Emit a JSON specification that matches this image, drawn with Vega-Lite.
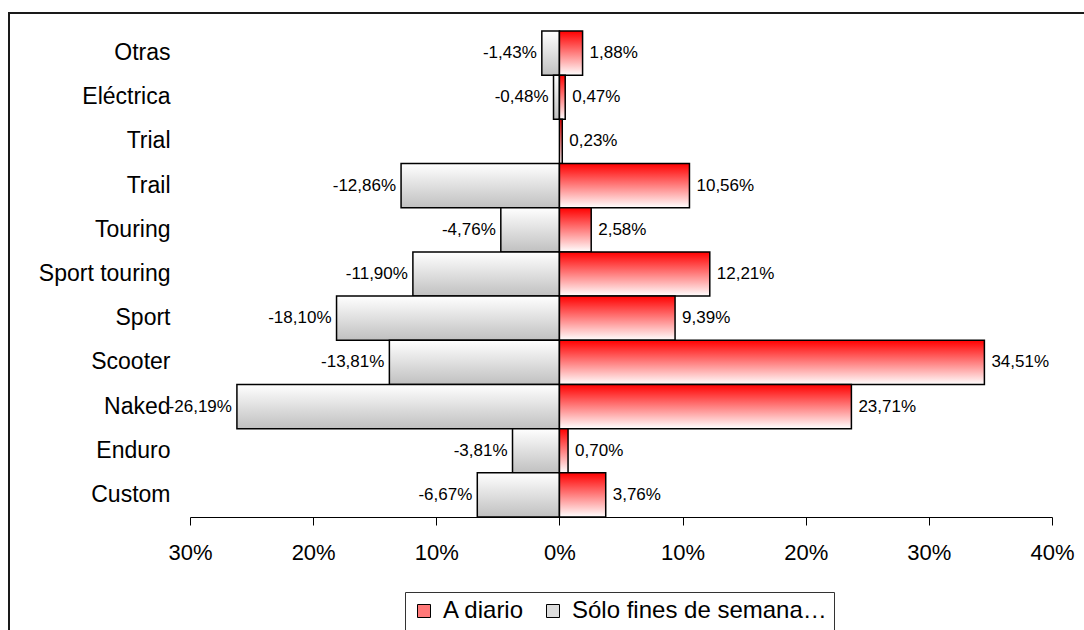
{
  "$schema": "https://vega.github.io/schema/vega-lite/v6.json",
  "width": 1081,
  "height": 623,
  "autosize": {"type": "none"},
  "padding": {"left": 9, "top": 13, "right": -6, "bottom": -6},
  "background": "white",
  "config": {
    "view": {"stroke": "#1a1a1a", "strokeWidth": 2},
    "font": "Liberation Sans",
    "locale": {
      "number": {
        "decimal": ",",
        "thousands": ".",
        "grouping": [3],
        "currency": ["", " €"],
        "minus": "-",
        "percent": "%"
      }
    }
  },
  "data": {
    "values": [
      {"categoria": "Otras", "serie": "A diario", "valor": 0.0188},
      {"categoria": "Otras", "serie": "Sólo fines de semana…", "valor": -0.0143},
      {"categoria": "Eléctrica", "serie": "A diario", "valor": 0.0047},
      {"categoria": "Eléctrica", "serie": "Sólo fines de semana…", "valor": -0.0048},
      {"categoria": "Trial", "serie": "A diario", "valor": 0.0023},
      {"categoria": "Trail", "serie": "A diario", "valor": 0.1056},
      {"categoria": "Trail", "serie": "Sólo fines de semana…", "valor": -0.1286},
      {"categoria": "Touring", "serie": "A diario", "valor": 0.0258},
      {"categoria": "Touring", "serie": "Sólo fines de semana…", "valor": -0.0476},
      {"categoria": "Sport touring", "serie": "A diario", "valor": 0.1221},
      {"categoria": "Sport touring", "serie": "Sólo fines de semana…", "valor": -0.119},
      {"categoria": "Sport", "serie": "A diario", "valor": 0.0939},
      {"categoria": "Sport", "serie": "Sólo fines de semana…", "valor": -0.181},
      {"categoria": "Scooter", "serie": "A diario", "valor": 0.3451},
      {"categoria": "Scooter", "serie": "Sólo fines de semana…", "valor": -0.1381},
      {"categoria": "Naked", "serie": "A diario", "valor": 0.2371},
      {"categoria": "Naked", "serie": "Sólo fines de semana…", "valor": -0.2619},
      {"categoria": "Enduro", "serie": "A diario", "valor": 0.007},
      {"categoria": "Enduro", "serie": "Sólo fines de semana…", "valor": -0.0381},
      {"categoria": "Custom", "serie": "A diario", "valor": 0.0376},
      {"categoria": "Custom", "serie": "Sólo fines de semana…", "valor": -0.0667}
    ]
  },
  "encoding": {
    "y": {
      "field": "categoria",
      "type": "nominal",
      "sort": ["Otras", "Eléctrica", "Trial", "Trail", "Touring", "Sport touring", "Sport", "Scooter", "Naked", "Enduro", "Custom"],
      "scale": {"range": [18, 504], "paddingInner": 0, "paddingOuter": 0},
      "axis": {
        "title": null,
        "domain": false,
        "ticks": false,
        "tickSize": 0,
        "labelPadding": 0,
        "offset": -161,
        "grid": false,
        "labelFontSize": 23,
        "labelColor": "black",
        "labelFont": "Liberation Sans"
      }
    },
    "x": {
      "field": "valor",
      "type": "quantitative",
      "scale": {"domain": [-0.3, 0.4], "range": [181, 1043], "nice": false, "zero": false},
      "axis": {
        "title": null,
        "values": [-0.3, -0.2, -0.1, 0, 0.1, 0.2, 0.3, 0.4],
        "labelExpr": "format(abs(datum.value), '.0%')",
        "offset": -119,
        "grid": false,
        "tickSize": 8,
        "tickColor": "black",
        "domainColor": "black",
        "labelFontSize": 22,
        "labelColor": "black",
        "labelFont": "Liberation Sans",
        "labelPadding": 17,
        "labelFlush": false,
        "labelOverlap": false
      }
    }
  },
  "layer": [
    {
      "transform": [{"filter": "datum.serie === 'Sólo fines de semana…'"}],
      "mark": {
        "type": "bar",
        "stroke": "black",
        "strokeWidth": 1.5,
        "fill": {
          "gradient": "linear", "x1": 0, "y1": 0, "x2": 0, "y2": 1,
          "stops": [{"offset": 0, "color": "#ffffff"}, {"offset": 1, "color": "#c0c0c0"}]
        }
      },
      "encoding": {"x2": {"datum": 0}}
    },
    {
      "transform": [{"filter": "datum.serie === 'A diario'"}],
      "mark": {
        "type": "bar",
        "stroke": "black",
        "strokeWidth": 1.5,
        "fill": {
          "gradient": "linear", "x1": 0, "y1": 0, "x2": 0, "y2": 1,
          "stops": [{"offset": 0, "color": "#ff0000"}, {"offset": 1, "color": "#ffffff"}]
        }
      },
      "encoding": {"x2": {"datum": 0}}
    },
    {
      "mark": {"type": "bar", "opacity": 0},
      "encoding": {
        "x2": {"datum": 0},
        "color": {
          "field": "serie",
          "type": "nominal",
          "scale": {"domain": ["A diario", "Sólo fines de semana…"], "range": ["#ff7878", "#dcdcdc"]},
          "legend": {
            "title": null,
            "orient": "none",
            "legendX": 396,
            "legendY": 579,
            "direction": "horizontal",
            "symbolType": "square",
            "symbolSize": 169,
            "symbolStrokeColor": "black",
            "symbolStrokeWidth": 1,
            "symbolOpacity": 1,
            "labelFontSize": 24,
            "labelFont": "Liberation Sans",
            "labelColor": "black",
            "labelOffset": 7,
            "labelLimit": 0,
            "columnPadding": 16,
            "padding": 7,
            "strokeColor": "#333333",
            "fillColor": "white"
          }
        }
      }
    },
    {
      "transform": [{"filter": "datum.serie === 'A diario'"}],
      "mark": {"type": "text", "align": "left", "baseline": "middle", "dx": 7, "fontSize": 17, "font": "Liberation Sans", "color": "black"},
      "encoding": {
        "text": {"field": "valor", "type": "quantitative", "format": ".2%"}
      }
    },
    {
      "transform": [{"filter": "datum.serie === 'Sólo fines de semana…'"}],
      "mark": {"type": "text", "align": "right", "baseline": "middle", "dx": -5, "fontSize": 17, "font": "Liberation Sans", "color": "black"},
      "encoding": {
        "text": {"field": "valor", "type": "quantitative", "format": ".2%"}
      }
    }
  ]
}
